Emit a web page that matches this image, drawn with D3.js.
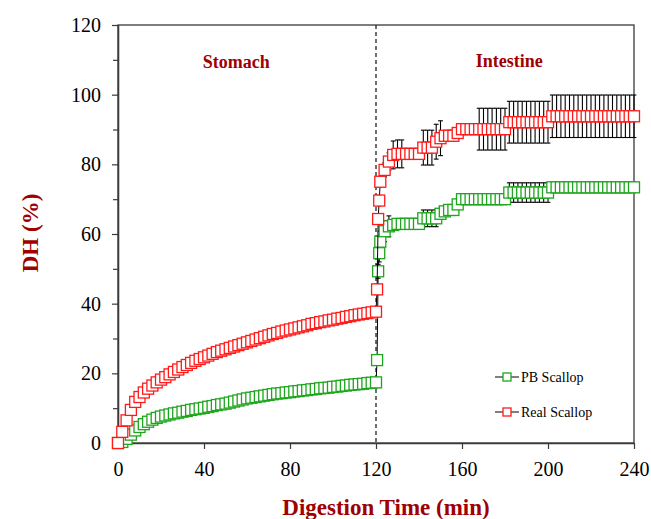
<!DOCTYPE html>
<html>
<head>
<meta charset="utf-8">
<script src="https://cdn.jsdelivr.net/npm/d3@7"></script>
<style>
  html, body { margin: 0; padding: 0; background: #fff; }
  svg { display: block; }
  text { font-family: "Liberation Serif", "Times New Roman", serif; }
</style>
</head>
<body>
<svg id="chart" width="651" height="519"></svg>
<script>
// Degree of hydrolysis (%) during simulated gastric (0–120 min) and intestinal (120–240 min) digestion

// Gastric phase sampling times (min)
const stomachTimes = [0, 2, 4, 6, 8, 10, 12, 14, 16, 18,
  20, 22, 24, 26, 28, 30, 32, 34, 36, 38,
  40, 42, 44, 46, 48, 50, 52, 54, 56, 58,
  60, 62, 64, 66, 68, 70, 72, 74, 76, 78,
  80, 82, 84, 86, 88, 90, 92, 94, 96, 98,
  100, 102, 104, 106, 108, 110, 112, 114, 116, 118,
  120];

const stomachPB = [0, 0.3, 1.2, 2.4, 3.6, 4.6, 5.4, 6.1, 6.7, 7.2,
  7.6, 7.9, 8.2, 8.5, 8.7, 9.0, 9.2, 9.5, 9.7, 9.9,
  10.1, 10.4, 10.6, 10.9, 11.1, 11.3, 11.6, 11.9, 12.2, 12.5,
  12.8, 13.0, 13.2, 13.4, 13.6, 13.8, 14.0, 14.2, 14.3, 14.5,
  14.6, 14.8, 14.9, 15.1, 15.2, 15.4, 15.5, 15.7, 15.8, 15.9,
  16.1, 16.2, 16.4, 16.5, 16.7, 16.8, 16.9, 17.0, 17.2, 17.3,
  17.4];

const stomachReal = [0, 3.2, 6.5, 9.5, 11.8, 13.2, 14.5, 15.6, 16.5, 17.4,
  18.2, 18.9, 19.7, 20.4, 21.1, 21.8, 22.4, 23.0, 23.6, 24.1,
  24.6, 25.1, 25.6, 26.1, 26.5, 26.9, 27.3, 27.7, 28.1, 28.5,
  28.9, 29.3, 29.7, 30.1, 30.5, 30.9, 31.3, 31.6, 32.0, 32.3,
  32.6, 32.9, 33.2, 33.5, 33.8, 34.2, 34.4, 34.7, 34.9, 35.2,
  35.4, 35.7, 35.9, 36.2, 36.4, 36.7, 36.9, 37.1, 37.3, 37.5,
  37.7];

// Intestinal phase sampling times (min)
const intestineTimes = [120.5, 121, 121.5, 122, 124, 126, 128,
  130, 132, 134, 136, 138, 140,
  142, 144, 146, 148, 150, 152, 154, 156, 158,
  160, 162, 164, 166, 168, 170, 172, 174, 176, 178, 180,
  182, 184, 186, 188, 190, 192, 194, 196, 198, 200,
  202, 204, 206, 208, 210, 212, 214, 216, 218, 220,
  222, 224, 226, 228, 230, 232, 234, 236, 238, 240];

const intestinePB = [23.8, 49.3, 54.5, 57.8, 60.8, 62.2, 62.6,
  62.9, 62.9, 62.9, 62.9, 62.9, 62.9,
  64.5, 64.5, 64.5, 64.5, 65.8, 66.5, 66.9, 66.9, 68.5,
  70.0, 70.0, 70.0, 70.0, 70.0, 70.0, 70.0, 70.0, 70.0, 70.0, 70.0,
  71.9, 71.9, 71.9, 71.9, 71.9, 71.9, 71.9, 71.9, 71.9, 71.9,
  73.4, 73.4, 73.4, 73.4, 73.4, 73.4, 73.4, 73.4, 73.4, 73.4,
  73.4, 73.4, 73.4, 73.4, 73.4, 73.4, 73.4, 73.4, 73.4, 73.4];

const intestinePBErr = [1.5, 2, 2.5, 3, 3, 3, 1,
  0.5, 0.5, 0.5, 0.5, 0.5, 0.5,
  2.4, 2.4, 2.4, 2.4, 0.5, 0.5, 0.5, 0.5, 0.5,
  0.5, 0.5, 0.5, 0.5, 0.5, 0.5, 0.5, 0.5, 0.5, 0.5, 0.5,
  2.8, 2.8, 2.8, 2.8, 2.8, 2.8, 2.8, 2.8, 2.8, 2.8,
  0.5, 0.5, 0.5, 0.5, 0.5, 0.5, 0.5, 0.5, 0.5, 0.5,
  0.5, 0.5, 0.5, 0.5, 0.5, 0.5, 0.5, 0.5, 0.5, 0.5];

const intestineReal = [44.1, 64.3, 69.6, 75.0, 78.4, 80.8, 82.7,
  83.0, 83.0, 83.0, 83.0, 83.0, 83.0,
  84.8, 84.8, 84.8, 86.5, 87.5, 88.2, 88.2, 88.2, 89.0,
  90.1, 90.1, 90.1, 90.1, 90.1, 90.1, 90.1, 90.1, 90.1, 90.1, 90.1,
  92.1, 92.1, 92.1, 92.1, 92.1, 92.1, 92.1, 92.1, 92.1, 92.1,
  93.8, 93.8, 93.8, 93.8, 93.8, 93.8, 93.8, 93.8, 93.8, 93.8,
  93.8, 93.8, 93.8, 93.8, 93.8, 93.8, 93.8, 93.8, 93.8, 93.8];

const intestineRealErr = [1.5, 1.5, 1.5, 1.5, 2, 2.5, 4,
  4, 4, 1, 1, 1, 1,
  5, 5, 5, 5, 5, 1, 1, 1, 1,
  1, 1, 1, 1, 6, 6, 6, 6, 6, 6, 6,
  6, 6, 6, 6, 6, 6, 6, 6, 6, 6,
  6.1, 6.1, 6.1, 6.1, 6.1, 6.1, 6.1, 6.1, 6.1, 6.1,
  6.1, 6.1, 6.1, 6.1, 6.1, 6.1, 6.1, 6.1, 6.1, 6.1];

const xTicks = [0, 40, 80, 120, 160, 200, 240];
const yTicks = [0, 20, 40, 60, 80, 100, 120];
const yMinorTicks = [10, 30, 50, 70, 90, 110];
const phaseBoundary = 120;
const phaseLabels = ["Stomach", "Intestine"];
const seriesNames = ["PB Scallop", "Real Scallop"];
const seriesColors = ["#1ea51e", "#ff1a1a"];

// ---- build point lists ----
function buildSeries(stomachVals, intestineVals, intestineErr) {
  const pts = stomachTimes.map((t, i) => ({ t, v: stomachVals[i], e: 0 }));
  intestineTimes.forEach((t, i) => pts.push({ t, v: intestineVals[i], e: intestineErr[i] }));
  return pts;
}
const series = [
  { name: seriesNames[0], color: seriesColors[0], pts: buildSeries(stomachPB, intestinePB, intestinePBErr) },
  { name: seriesNames[1], color: seriesColors[1], pts: buildSeries(stomachReal, intestineReal, intestineRealErr) }
];

// ---- scales ----
const plotLeft = 118, plotRight = 634, plotTop = 25, plotBottom = 443;
const x = d3.scaleLinear().domain([0, 240]).range([plotLeft, plotRight]);
const y = d3.scaleLinear().domain([0, 120]).range([plotBottom, plotTop]);

const svg = d3.select("#chart");
const axisColor = "#3a3a3a";
const titleColor = "#a00000";

// plot frame
svg.append("rect")
  .attr("x", plotLeft).attr("y", plotTop)
  .attr("width", plotRight - plotLeft).attr("height", plotBottom - plotTop)
  .attr("fill", "none").attr("stroke", axisColor).attr("stroke-width", 1.3);

// y axis, major ticks
const yAxis = svg.append("g")
  .attr("transform", `translate(${plotLeft},0)`)
  .call(d3.axisLeft(y).tickValues(yTicks).tickSize(6).tickSizeOuter(0).tickPadding(11));
// y axis, minor ticks
const yMinor = svg.append("g")
  .attr("transform", `translate(${plotLeft},0)`)
  .call(d3.axisLeft(y).tickValues(yMinorTicks).tickSize(5).tickSizeOuter(0).tickFormat(""));

// x axis
const xAxis = svg.append("g")
  .attr("transform", `translate(0,${plotBottom})`)
  .call(d3.axisBottom(x).tickValues(xTicks).tickSize(6).tickSizeOuter(0).tickPadding(13));

[yAxis, yMinor, xAxis].forEach(g => {
  g.select(".domain").attr("stroke", axisColor).attr("stroke-width", 1.3);
  g.selectAll(".tick line").attr("stroke", axisColor).attr("stroke-width", 1.2);
  g.selectAll(".tick text")
    .attr("fill", "#000")
    .style("font-family", '"Liberation Serif", "Times New Roman", serif')
    .style("font-size", "20px");
});

// phase boundary
svg.append("line")
  .attr("x1", x(phaseBoundary)).attr("x2", x(phaseBoundary))
  .attr("y1", y(120)).attr("y2", y(0))
  .attr("stroke", "#222").attr("stroke-width", 1.3)
  .attr("stroke-dasharray", "4,3");

// phase labels
svg.append("text")
  .attr("x", x(55)).attr("y", 68)
  .attr("text-anchor", "middle")
  .attr("fill", titleColor)
  .style("font-weight", "bold").style("font-size", "18px")
  .text(phaseLabels[0]);
svg.append("text")
  .attr("x", x(182)).attr("y", 67)
  .attr("text-anchor", "middle")
  .attr("fill", titleColor)
  .style("font-weight", "bold").style("font-size", "18px")
  .text(phaseLabels[1]);

// axis titles
svg.append("text")
  .attr("transform", `translate(38,233) rotate(-90)`)
  .attr("text-anchor", "middle")
  .attr("fill", titleColor)
  .style("font-weight", "bold").style("font-size", "23px")
  .text("DH (%)");
svg.append("text")
  .attr("x", 386).attr("y", 515)
  .attr("text-anchor", "middle")
  .attr("fill", titleColor)
  .style("font-weight", "bold").style("font-size", "23px")
  .text("Digestion Time (min)");

// ---- series ----
const line = d3.line().x(d => x(d.t)).y(d => y(d.v));
const ms = 11; // marker size
const cap = 2.4;

series.forEach(s => {
  const g = svg.append("g");
  g.append("path")
    .attr("d", line(s.pts))
    .attr("fill", "none").attr("stroke", "#000").attr("stroke-width", 1);

  const eb = g.append("g").selectAll("g")
    .data(s.pts.filter(d => d.e > 0))
    .join("g")
    .attr("stroke", "#000").attr("stroke-width", 1.1);
  eb.append("line")
    .attr("x1", d => x(d.t)).attr("x2", d => x(d.t))
    .attr("y1", d => y(d.v + d.e)).attr("y2", d => y(d.v - d.e));
  eb.append("line")
    .attr("x1", d => x(d.t) - cap).attr("x2", d => x(d.t) + cap)
    .attr("y1", d => y(d.v + d.e)).attr("y2", d => y(d.v + d.e));
  eb.append("line")
    .attr("x1", d => x(d.t) - cap).attr("x2", d => x(d.t) + cap)
    .attr("y1", d => y(d.v - d.e)).attr("y2", d => y(d.v - d.e));

  g.append("g").selectAll("rect")
    .data(s.pts)
    .join("rect")
    .attr("x", d => x(d.t) - ms / 2).attr("y", d => y(d.v) - ms / 2)
    .attr("width", ms).attr("height", ms)
    .attr("fill", "#fff").attr("stroke", s.color).attr("stroke-width", 1.3);
});

// ---- legend ----
const legend = svg.append("g");
series.forEach((s, i) => {
  const ly = 377 + i * 35;
  legend.append("line")
    .attr("x1", 495).attr("x2", 519).attr("y1", ly).attr("y2", ly)
    .attr("stroke", "#000").attr("stroke-width", 1);
  legend.append("rect")
    .attr("x", 507 - 4).attr("y", ly - 4).attr("width", 8).attr("height", 8)
    .attr("fill", "#fff").attr("stroke", s.color).attr("stroke-width", 1.3);
  legend.append("text")
    .attr("x", 521).attr("y", ly + 5)
    .attr("fill", "#000").style("font-size", "14px")
    .text(s.name);
});
</script>
</body>
</html>
